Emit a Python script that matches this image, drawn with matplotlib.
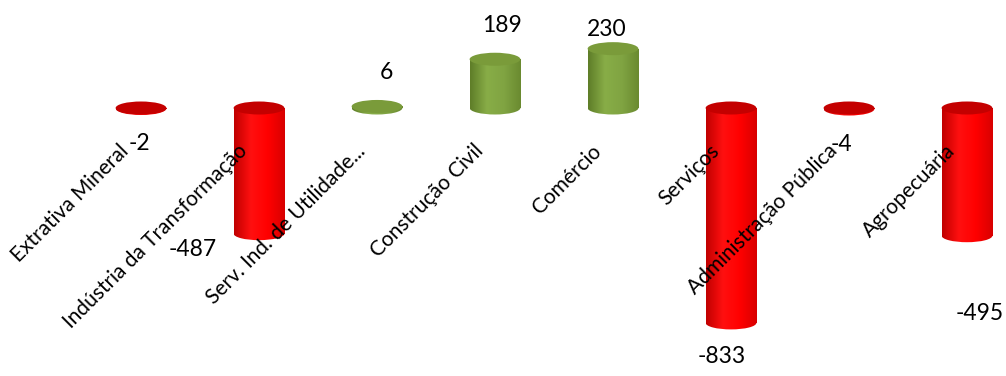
import numpy as np
import matplotlib.pyplot as plt
from matplotlib.patches import Ellipse
from matplotlib.colors import LinearSegmentedColormap

categories = ['Extrativa Mineral', 'Indústria da Transformação', 'Serv. Ind. de Utilidade...',
              'Construção Civil', 'Comércio', 'Serviços', 'Administração Pública', 'Agropecuária']
values = [-2, -487, 6, 189, 230, -833, -4, -495]

# manual label placement (pixels), like the moved labels of the original
label_offsets = [(-2, -35), (-66, -16), (9, 34), (7, 34), (-6, 19), (-9, -34), (-8, -35), (13, -78)]

plt.rcParams['font.family'] = ['Lato', 'DejaVu Sans']

fig = plt.figure(figsize=(10.06, 3.76), dpi=100)
ax = fig.add_axes([0, 0, 1, 1])

step = 118.0    # px per category
scale = 0.258   # px per unit
width = 0.43
ell_h = 13 / scale

red_body = LinearSegmentedColormap.from_list('rb', ['#c00000', '#ff1010', '#ff0000', '#d80000'])
green_body = LinearSegmentedColormap.from_list('gb', ['#5e7d28', '#88ad47', '#80a442', '#6a8a30'])
grad = np.linspace(0, 1, 256).reshape(1, -1)

bars = ax.bar(range(len(values)), values, width=width, color='none', edgecolor='none')
for i, (bar, v) in enumerate(zip(bars, values)):
    cmap = red_body if v < 0 else green_body
    top_color = '#c40000' if v < 0 else '#7a9b3a'
    lo, hi = min(0, v), max(0, v)
    x0 = bar.get_x()
    ext = (x0, x0 + width, lo - ell_h, hi)
    im = ax.imshow(grad, cmap=cmap, extent=ext, aspect='auto', zorder=2)
    im.set_clip_path(bar)
    bottom = Ellipse((i, lo), width, ell_h, facecolor='none', edgecolor='none')
    ax.add_patch(bottom)
    im2 = ax.imshow(grad, cmap=cmap, extent=ext, aspect='auto', zorder=2)
    im2.set_clip_path(bottom)
    ax.add_patch(Ellipse((i, hi), width, ell_h, facecolor=top_color, edgecolor='none', zorder=3))

    ax.annotate(f'{v}', (i, v), xytext=label_offsets[i], textcoords='offset pixels',
                ha='center', va='center', fontsize=16.5, zorder=5)
    ax.annotate(categories[i], (i, 0), xytext=(-15, -40), textcoords='offset pixels',
                ha='right', va='center', rotation=45, rotation_mode='anchor',
                fontsize=15, zorder=5)

ax.set_xlim(-141 / step, (1006 - 141) / step)
ax.set_ylim(-(376 - 108) / scale, 108 / scale)
ax.axis('off')

plt.savefig('out.png', dpi=100)
